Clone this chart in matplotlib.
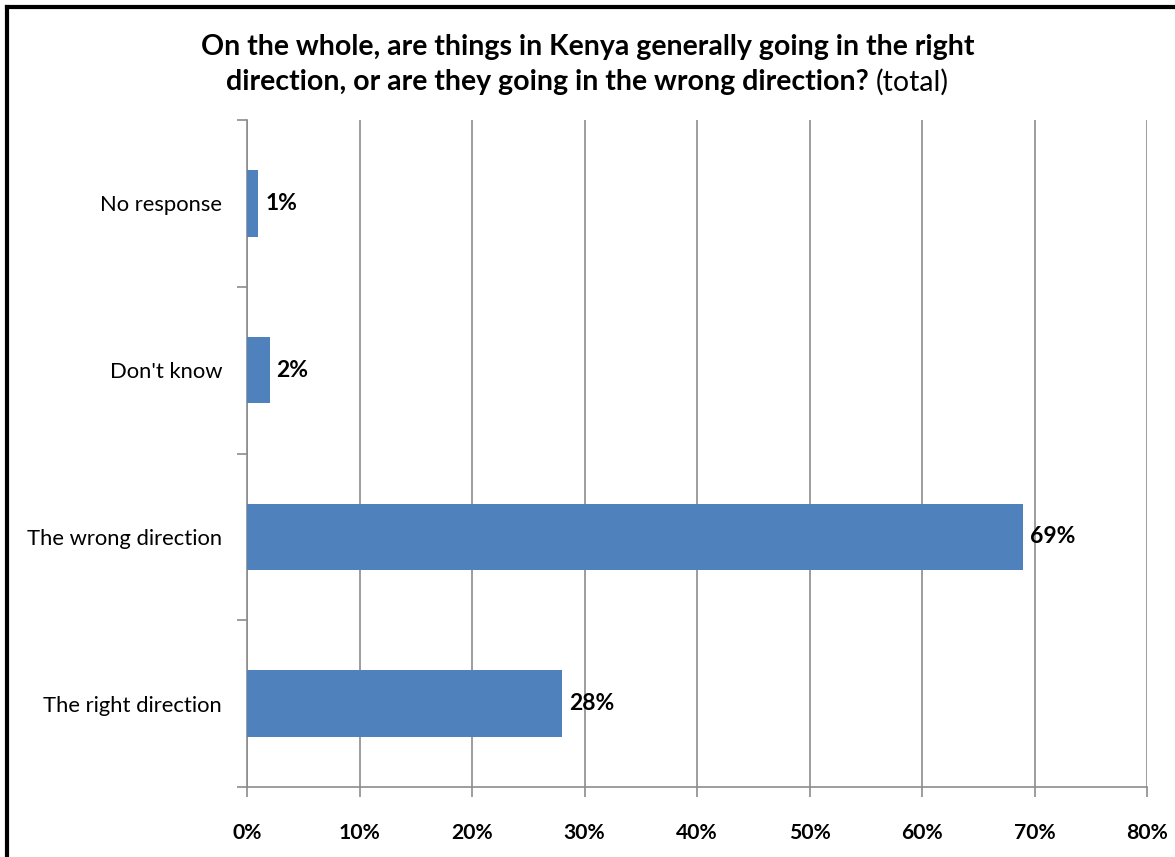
import matplotlib.pyplot as plt
from matplotlib.lines import Line2D
from matplotlib.ticker import FixedLocator, PercentFormatter

categories = ['The right direction', 'The wrong direction', "Don't know", 'No response']
values = [28, 69, 2, 1]
xticks = [0, 10, 20, 30, 40, 50, 60, 70, 80]

plt.rcParams['font.family'] = ['Lato', 'DejaVu Sans']

fig = plt.figure(figsize=(11.75, 8.57), dpi=100)
ax = fig.add_axes([247 / 1175, 70 / 857, 900 / 1175, 667 / 857])

grey = '#8c8c8c'
pos = list(range(len(categories)))
bars = ax.barh(pos, values, height=0.4, color='#4f81bd', zorder=3)

ax.set_xlim(0, 80)
ax.set_ylim(-0.5, len(categories) - 0.5)
ax.set_xticks(xticks)
ax.xaxis.set_major_formatter(PercentFormatter(decimals=0))
ax.set_yticks(pos)
ax.set_yticklabels(categories)
ax.yaxis.set_minor_locator(FixedLocator([p - 0.5 for p in range(len(categories) + 1)]))

ax.grid(axis='x', color=grey, linewidth=1.2, zorder=0)
for side in ['top', 'right']:
    ax.spines[side].set_visible(False)
for side in ['left', 'bottom']:
    ax.spines[side].set_color(grey)
    ax.spines[side].set_linewidth(1.2)

ax.tick_params(axis='x', length=7, width=1.2, color=grey, pad=19, labelsize=15.2)
for lab in ax.get_xticklabels():
    lab.set_fontweight('bold')
ax.tick_params(axis='y', which='major', length=0, pad=18, labelsize=15.8)
ax.tick_params(axis='y', which='minor', length=7, width=1.2, color=grey)

for b, v in zip(bars, values):
    ax.annotate(f'{v}%', (b.get_width(), b.get_y() + b.get_height() / 2),
                xytext=(5, 0), textcoords='offset points', va='center',
                ha='left', fontsize=16.5, fontweight='bold')

# title, bold with a normal "(total)" at the end
fig.text(0.5, 1 - 47 / 857, 'On the whole, are things in Kenya generally going in the right',
         ha='center', va='center', fontsize=20.5, fontweight='bold')
renderer = fig.canvas.get_renderer()
t1 = fig.text(0, 1 - 82 / 857, 'direction, or are they going in the wrong direction? ',
              ha='left', va='center', fontsize=20.5, fontweight='bold')
t2 = fig.text(0, 1 - 82 / 857, '(total)', ha='left', va='center', fontsize=20.5)
w1 = t1.get_window_extent(renderer).width
w2 = t2.get_window_extent(renderer).width
start = (1175 - (w1 + w2)) / 2 / 1175
t1.set_x(start)
t2.set_x(start + w1 / 1175)

# frame around the figure (left and top edges visible)
fig.add_artist(Line2D([7 / 1175, 7 / 1175], [0, 1 - 7 / 857], color='black', linewidth=3,
                      transform=fig.transFigure))
fig.add_artist(Line2D([7 / 1175, 1], [1 - 7 / 857, 1 - 7 / 857], color='black', linewidth=3,
                      transform=fig.transFigure))

fig.savefig('out.png', dpi=100)
